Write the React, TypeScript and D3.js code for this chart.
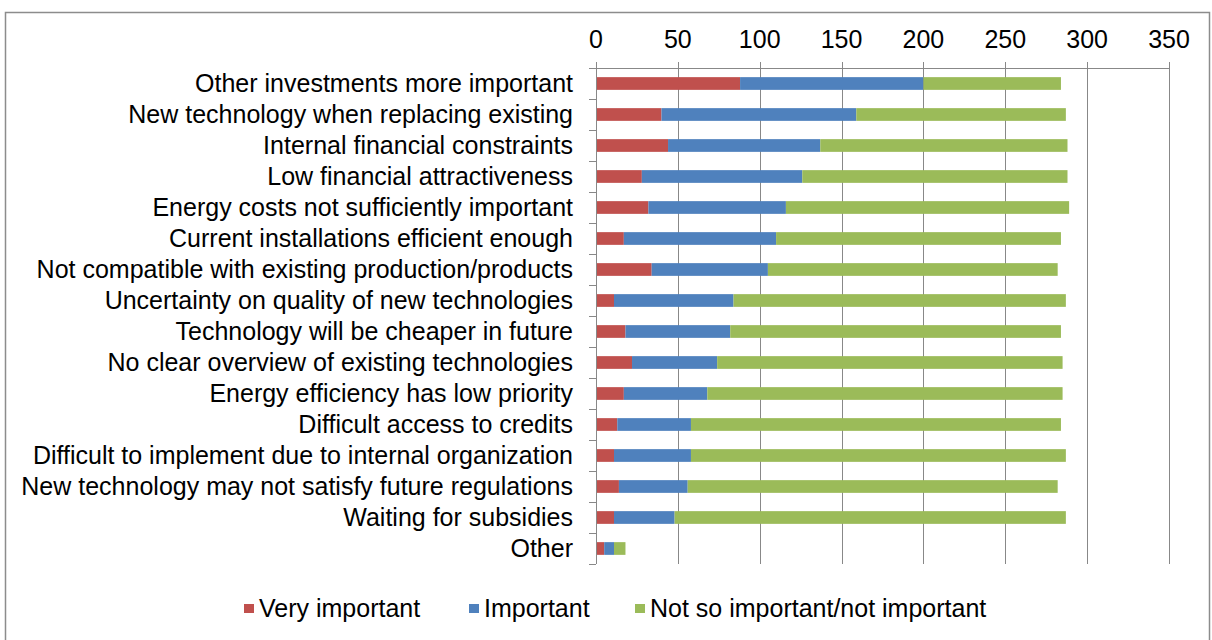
import { useEffect, useRef } from "react";
import * as d3 from "d3";

const categories = [
  "Other investments more important",
  "New technology when replacing existing",
  "Internal financial constraints",
  "Low financial attractiveness",
  "Energy costs not sufficiently important",
  "Current installations efficient enough",
  "Not compatible with existing production/products",
  "Uncertainty on quality of new technologies",
  "Technology will be cheaper in future",
  "No clear overview of existing technologies",
  "Energy efficiency has low priority",
  "Difficult access to credits",
  "Difficult to implement due to internal organization",
  "New technology may not satisfy future regulations",
  "Waiting for subsidies",
  "Other",
];

const veryImportant = [88, 40, 44, 28, 32, 17, 34, 11, 18, 22, 17, 13, 11, 14, 11, 5];
const important = [112, 119, 93, 98, 84, 93, 71, 73, 64, 52, 51, 45, 47, 42, 37, 6];
const notImportant = [84, 128, 151, 162, 173, 174, 177, 203, 202, 211, 217, 226, 229, 226, 239, 7];

const seriesNames = ["Very important", "Important", "Not so important/not important"];
const seriesColors = ["#C0504D", "#4F81BD", "#9BBB59"];
const xTicks = [0, 50, 100, 150, 200, 250, 300, 350];

const FONT = "'Liberation Sans', Arial, sans-serif";
const FS = 25;

const App = () => {
  const svgRef = useRef<SVGSVGElement>(null);

  useEffect(() => {
    if (!svgRef.current) return;
    const svg = d3.select(svgRef.current);
    svg.selectAll("*").remove();

    const width = 1212;
    const height = 640;

    // chart frame
    svg.append("rect")
      .attr("x", 5.5).attr("y", 12.5)
      .attr("width", 1204).attr("height", 640)
      .attr("fill", "#fff")
      .attr("stroke", "#8c8c8c")
      .attr("stroke-width", 1.5);

    const x = d3.scaleLinear().domain([0, 350]).range([596, 1169]);
    const y = d3.scaleBand<string>().domain(categories).range([68, 564])
      .paddingInner(0.59).paddingOuter(0.295);
    const step = y.step();

    const rows = categories.map((c, i) => ({
      cat: c,
      v0: veryImportant[i],
      v1: important[i],
      v2: notImportant[i],
    }));
    const stack = d3.stack<any>().keys(["v0", "v1", "v2"])(rows);

    // gridlines + top ticks
    svg.append("g").selectAll("line")
      .data(xTicks)
      .enter()
      .append("line")
      .attr("x1", (d) => Math.round(x(d)) + 0.5)
      .attr("x2", (d) => Math.round(x(d)) + 0.5)
      .attr("y1", 62)
      .attr("y2", 564)
      .attr("stroke", "#888")
      .attr("stroke-width", 1);

    // top axis line
    svg.append("line")
      .attr("x1", x(0)).attr("x2", x(350))
      .attr("y1", 68.5).attr("y2", 68.5)
      .attr("stroke", "#888");

    // tick labels
    svg.append("g").selectAll("text")
      .data(xTicks)
      .enter()
      .append("text")
      .attr("x", (d) => x(d))
      .attr("y", 48)
      .attr("text-anchor", "middle")
      .attr("font-family", FONT)
      .attr("font-size", FS)
      .attr("fill", "#000")
      .text((d) => d);

    // bars
    stack.forEach((layer, si) => {
      svg.append("g").selectAll("rect")
        .data(layer)
        .enter()
        .append("rect")
        .attr("x", (d: any) => x(d[0]))
        .attr("y", (d: any) => y(d.data.cat)!)
        .attr("width", (d: any) => x(d[1]) - x(d[0]))
        .attr("height", y.bandwidth())
        .attr("fill", seriesColors[si]);
    });

    // left axis
    svg.append("line")
      .attr("x1", 596.5).attr("x2", 596.5)
      .attr("y1", 68).attr("y2", 564)
      .attr("stroke", "#888");
    svg.append("g").selectAll("line")
      .data(d3.range(categories.length + 1))
      .enter()
      .append("line")
      .attr("x1", 589).attr("x2", 596)
      .attr("y1", (i) => Math.round(68 + i * step) + 0.5)
      .attr("y2", (i) => Math.round(68 + i * step) + 0.5)
      .attr("stroke", "#888");

    // category labels
    svg.append("g").selectAll("text")
      .data(categories)
      .enter()
      .append("text")
      .attr("x", 573)
      .attr("y", (d) => y(d)! + y.bandwidth() / 2 + 8.5)
      .attr("text-anchor", "end")
      .attr("font-family", FONT)
      .attr("font-size", FS)
      .attr("fill", "#000")
      .text((d) => d);

    // legend
    const legendX = [244, 469, 635];
    const lg = svg.append("g");
    seriesNames.forEach((name, i) => {
      lg.append("rect")
        .attr("x", legendX[i]).attr("y", 604)
        .attr("width", 10).attr("height", 9)
        .attr("fill", seriesColors[i]);
      lg.append("text")
        .attr("x", legendX[i] + 15)
        .attr("y", 617)
        .attr("font-family", FONT)
        .attr("font-size", FS)
        .attr("fill", "#000")
        .text(name);
    });

    svg.attr("width", width).attr("height", height);
  }, []);

  return (
    <div style={{ position: "absolute", left: 0, top: 0, width: 1212, height: 640, overflow: "hidden" }}>
      <svg ref={svgRef} width={1212} height={640} style={{ display: "block" }} />
    </div>
  );
};

export default App;
